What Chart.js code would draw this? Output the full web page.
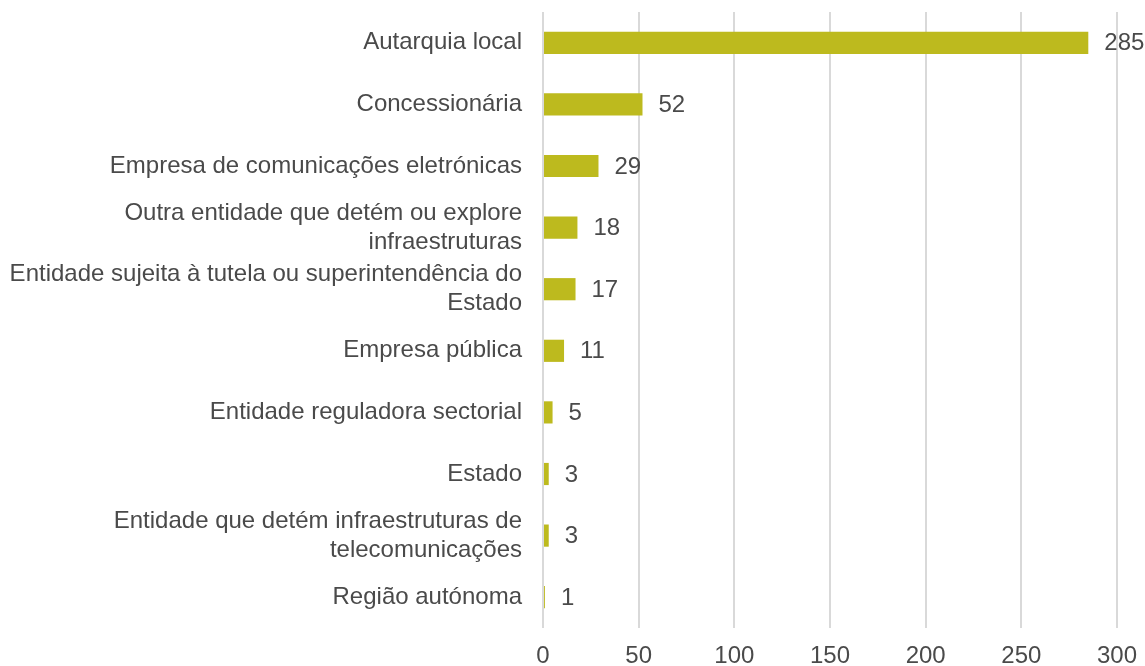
<!DOCTYPE html>
<html>
<head>
<meta charset="utf-8">
<script src="https://cdn.jsdelivr.net/npm/chart.js@4/dist/chart.umd.min.js"></script>
<style>
html,body{margin:0;padding:0;background:#fff;}
#wrap{width:1145px;height:666px;position:relative;}
</style>
</head>
<body>
<div id="wrap"><canvas id="c"></canvas></div>
<script>
const categories = [
  "Autarquia local",
  "Concessionária",
  "Empresa de comunicações eletrónicas",
  ["Outra entidade que detém ou explore", "infraestruturas"],
  ["Entidade sujeita à tutela ou superintendência do", "Estado"],
  "Empresa pública",
  "Entidade reguladora sectorial",
  "Estado",
  ["Entidade que detém infraestruturas de", "telecomunicações"],
  "Região autónoma"
];
const values = [285, 52, 29, 18, 17, 11, 5, 3, 3, 1];
const xTicks = [0, 50, 100, 150, 200, 250, 300];

const FONT = "'Liberation Sans', Arial, sans-serif";
const TEXT = "#4A4A4A";

const valueLabels = {
  id: 'valueLabels',
  afterDatasetsDraw(chart) {
    const ctx = chart.ctx;
    const meta = chart.getDatasetMeta(0);
    ctx.save();
    ctx.font = "24px " + FONT;
    ctx.fillStyle = TEXT;
    ctx.textAlign = 'left';
    ctx.textBaseline = 'middle';
    meta.data.forEach((bar, i) => {
      ctx.fillText(String(values[i]), bar.x + 16, bar.y + 1);
    });
    ctx.restore();
  }
};

new Chart(document.getElementById('c'), {
  type: 'bar',
  data: {
    labels: categories,
    datasets: [{
      data: values,
      backgroundColor: '#BDBA1E',
      borderWidth: 0,
      categoryPercentage: 1,
      barPercentage: 0.36
    }]
  },
  options: {
    indexAxis: 'y',
    responsive: true,
    maintainAspectRatio: false,
    animation: false,
    layout: { padding: { top: 12, right: 28, bottom: 0, left: 0 } },
    plugins: { legend: { display: false }, tooltip: { enabled: false } },
    scales: {
      x: {
        min: 0, max: 300,
        afterBuildTicks(s) { s.ticks = xTicks.map(v => ({ value: v })); },
        afterFit(s) { s.height = 38; s.paddingLeft = 0; s.paddingRight = 0; },
        grid: { color: '#D9D9D9', lineWidth: 2, drawTicks: false },
        border: { display: false },
        ticks: { color: TEXT, padding: 14, maxRotation: 0, font: { family: FONT, size: 24 } }
      },
      y: {
        afterFit(s) { s.width = 543; s.paddingTop = 0; s.paddingBottom = 0; },
        grid: { display: false, drawTicks: false },
        border: { display: false },
        ticks: { color: TEXT, padding: 21, autoSkip: false, font: { family: FONT, size: 24, lineHeight: 1.2 } }
      }
    }
  },
  plugins: [valueLabels]
});
</script>
</body>
</html>
